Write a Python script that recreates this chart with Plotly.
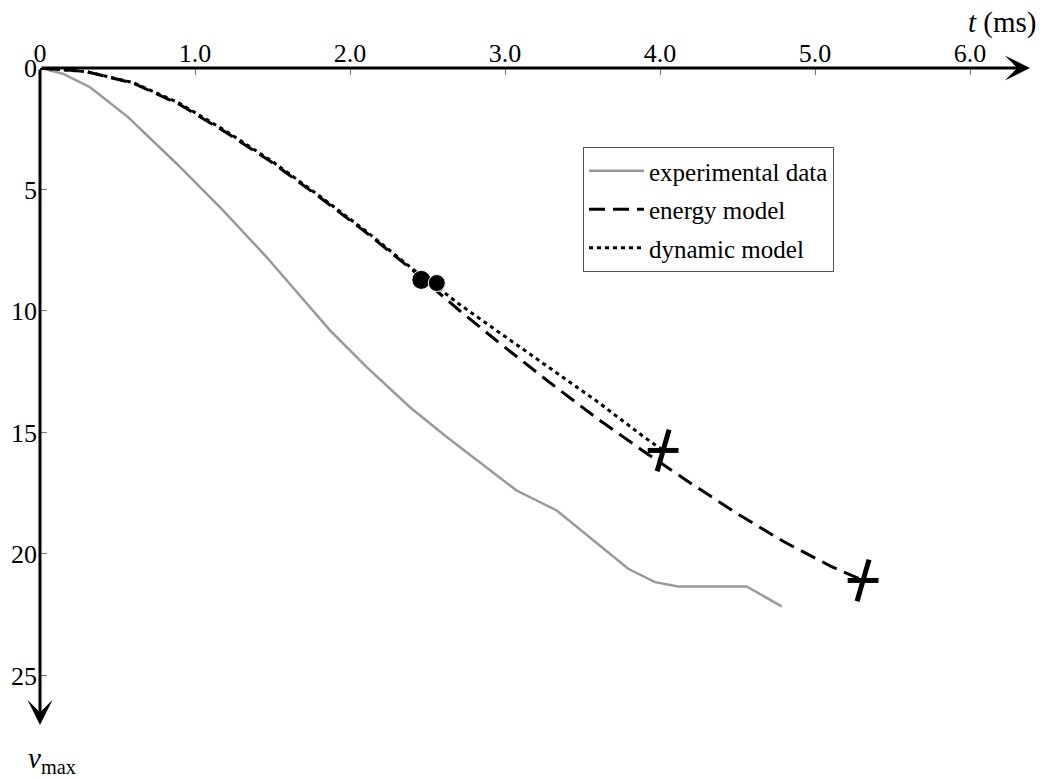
import plotly.graph_objects as go

# ---- data ----
exp_t = [0, 0.150, 0.323, 0.568, 0.882, 1.181, 1.463, 1.677, 1.871, 2.108, 2.387, 2.624,
         2.882, 3.075, 3.334, 3.570, 3.795, 3.968, 4.118, 4.559, 4.785]
exp_v = [0, 0.24, 0.79, 2.02, 3.94, 5.86, 7.79, 9.36, 10.80, 12.31, 13.96, 15.19,
         16.43, 17.39, 18.21, 19.44, 20.61, 21.16, 21.34, 21.34, 22.16]

energy_t = [0, 0.3, 0.6, 0.9, 1.2, 1.5, 1.8, 2.1, 2.4, 2.7, 3.0, 3.3, 3.6, 3.9, 4.2, 4.5, 4.8, 5.1, 5.31]
energy_v = [0, 0.15, 0.62, 1.5, 2.65, 3.9, 5.3, 6.75, 8.3, 9.95, 11.5, 13.0, 14.45, 15.8, 17.1, 18.35, 19.5, 20.5, 21.09]

dynamic_t = [0, 0.3, 0.6, 0.9, 1.2, 1.5, 1.8, 2.1, 2.4, 2.56, 2.7, 3.0, 3.3, 3.6, 3.9, 4.02]
dynamic_v = [0, 0.15, 0.6, 1.45, 2.6, 3.85, 5.25, 6.7, 8.25, 9.0, 9.7, 11.05, 12.4, 13.75, 15.2, 15.74]

switch_t = [2.46, 2.56]
switch_v = [8.72, 8.85]

end_t = [4.02, 5.31]
end_v = [15.74, 21.09]

x_ticks = [0, 1, 2, 3, 4, 5, 6]
x_ticktext = ["0", "1.0", "2.0", "3.0", "4.0", "5.0", "6.0"]
y_ticks = [0, 5, 10, 15, 20, 25]
y_ticktext = ["0", "5", "10", "15", "20", "25"]

X_MAX = 6.387
Y_MAX = 27.04

FONT = "Liberation Serif, Times New Roman, serif"

fig = go.Figure()

fig.add_trace(go.Scatter(x=exp_t, y=exp_v, mode="lines", name="experimental data",
                         line=dict(color="#999999", width=2.5), cliponaxis=False,
                         legendgroup="a"))
fig.add_trace(go.Scatter(x=energy_t, y=energy_v, mode="lines", name="energy model",
                         line=dict(color="black", width=3, dash="16px,8px"), cliponaxis=False,
                         legendgroup="b"))
fig.add_trace(go.Scatter(x=dynamic_t, y=dynamic_v, mode="lines", name="dynamic model",
                         line=dict(color="black", width=3, dash="4px,4px"), cliponaxis=False,
                         legendgroup="c"))
fig.add_trace(go.Scatter(x=switch_t, y=switch_v, mode="markers", showlegend=False,
                         marker=dict(color="black", size=[19, 17], symbol="circle", opacity=1)))
fig.add_trace(go.Scatter(x=end_t, y=end_v, mode="markers", showlegend=False,
                         marker=dict(symbol="line-ns", size=31, angle=16, opacity=1,
                                     line=dict(color="black", width=5))))
fig.add_trace(go.Scatter(x=end_t, y=end_v, mode="markers", showlegend=False,
                         marker=dict(symbol="line-ew", size=22, opacity=1,
                                     line=dict(color="black", width=5))))

# axis arrows
fig.add_annotation(x=X_MAX, y=0, ax=0, ay=0, xref="x", yref="y", axref="x", ayref="y",
                   text="", showarrow=True, arrowhead=3, arrowwidth=3, arrowsize=1.4,
                   arrowcolor="black")
fig.add_annotation(x=0, y=Y_MAX, ax=0, ay=0, xref="x", yref="y", axref="x", ayref="y",
                   text="", showarrow=True, arrowhead=3, arrowwidth=3, arrowsize=1.4,
                   arrowcolor="black")

fig.add_annotation(x=1038, y=22, xref="paper", yref="paper", text="<i>t</i> (ms)",
                   showarrow=False, xanchor="right", yanchor="middle",
                   font=dict(family=FONT, size=29, color="black"))
fig.add_annotation(x=26, y=760, xref="paper", yref="paper", text="<i>v</i><sub>max</sub>",
                   showarrow=False, xanchor="left", yanchor="middle",
                   font=dict(family=FONT, size=29, color="black"))

W, H = 1042, 779
L, R, T, B = 40, 12, 68, 54
pw, ph = W - L - R, H - T - B
# convert pixel annotations to paper coords
for ann in fig.layout.annotations[2:]:
    ann.x = (ann.x - L) / pw
    ann.y = 1 - (ann.y - T) / ph

fig.update_layout(
    width=W, height=H,
    margin=dict(l=L, r=R, t=T, b=B, pad=0),
    paper_bgcolor="white", plot_bgcolor="white",
    font=dict(family=FONT, size=26, color="black"),
    xaxis=dict(range=[0, X_MAX], side="top", showgrid=False, zeroline=False, showline=False,
               tickvals=x_ticks, ticktext=x_ticktext, ticks="inside", ticklen=7,
               tickwidth=1, tickcolor="#777777", tickfont=dict(family=FONT, size=26)),
    yaxis=dict(range=[Y_MAX, 0], showgrid=False, zeroline=False, showline=False,
               tickvals=y_ticks, ticktext=y_ticktext, ticks="inside", ticklen=7,
               tickwidth=1, tickcolor="#777777", tickfont=dict(family=FONT, size=26),
               ticklabelstandoff=2),
    legend=dict(x=(583 - L) / pw, y=1 - (147 - T) / ph, xanchor="left", yanchor="top",
                bordercolor="#555555", borderwidth=1, bgcolor="white",
                font=dict(family=FONT, size=25, color="black"),
                traceorder="grouped", tracegroupgap=3, itemwidth=55,
                entrywidth=195, entrywidthmode="pixels"),
    showlegend=True,
)

fig.write_html("out.html")
